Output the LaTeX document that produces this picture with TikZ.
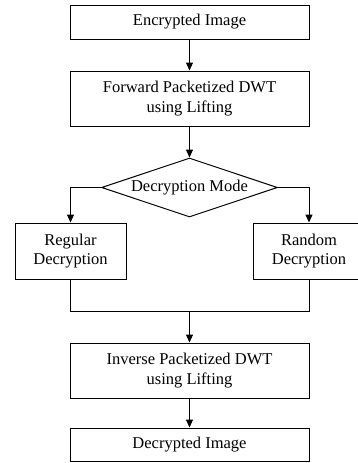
\documentclass[tikz,border=0pt]{standalone}
\usepackage{fontspec}
\setmainfont{Liberation Serif}
\usepackage{tikz}
\usetikzlibrary{
	calc,
	positioning,
	arrows.meta,
	shapes.geometric
}

\begin{document}
\begin{tikzpicture}[
				x=1pt, y=-1pt,
				font=\fontsize{16.5}{19.5}\selectfont,
				block/.style={draw, line width=1pt, align=center, inner sep=0pt, minimum width=239pt},
				sidebox/.style={draw, line width=1pt, align=center, inner sep=0pt, minimum width=111pt, minimum height=56pt},
				decision/.style={draw, line width=1pt, diamond, aspect=3, inner sep=0pt, minimum width=176pt, minimum height=59pt},
				flow/.style={line width=1pt, -{Triangle[length=8pt, width=7pt]}},
				mergeline/.style={line width=1pt}
			]
				\useasboundingbox (0,0) rectangle (358,463);
				% 方框
				\node[block, minimum height=34pt] (encimg)  at (189.5,22)   {Encrypted Image};
				\node[block, minimum height=55pt] (fwddwt)  at (189.5,98.5) {Forward Packetized DWT\\using Lifting};
				\node[decision]                   (mode)    at (189.5,187.5) {Decryption Mode};
				\node[sidebox]                    (regular) at (70.5,251)   {Regular\\Decryption};
				\node[sidebox]                    (random)  at (309,251)    {Random\\Decryption};
				\node[block, minimum height=55pt] (invdwt)  at (189.5,370.5) {Inverse Packetized DWT\\using Lifting};
				\node[block, minimum height=33pt] (decimg)  at (189.5,444.5) {Decrypted Image};
				% 汇合点
				\coordinate (merge) at (189.5,311);
				% 连线
				\draw[flow] (encimg)  -- (fwddwt);
				\draw[flow] (fwddwt)  -- (mode);
				\draw[flow] (mode.west) -| (regular.north);
				\draw[flow] (mode.east) -| (random.north);
				\draw[mergeline] (regular.south) |- (merge);
				\draw[mergeline] (random.south)  |- (merge);
				\draw[flow] (merge)   -- (invdwt);
				\draw[flow] (invdwt)  -- (decimg);
			\end{tikzpicture}
\end{document}
